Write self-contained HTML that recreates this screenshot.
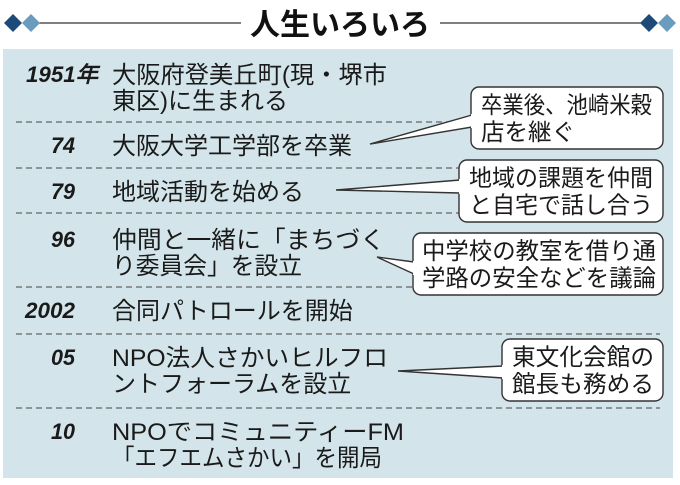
<!DOCTYPE html>
<html><head><meta charset="utf-8"><style>
html,body{margin:0;padding:0;background:#fff;}
svg{display:block;}
.t{font-family:"Liberation Sans","Noto Sans CJK JP",sans-serif;font-size:24px;fill:#1a1a1a;}
.b{font-family:"Liberation Sans","Noto Sans CJK JP",sans-serif;font-size:23.5px;fill:#1a1a1a;}
.y{font-family:"Liberation Sans Narrow","Liberation Sans",sans-serif;font-size:22px;font-weight:bold;font-style:italic;fill:#1a1a1a;}
</style></head><body>
<svg width="680" height="485" viewBox="0 0 680 485" xmlns="http://www.w3.org/2000/svg">
<rect x="0" y="0" width="680" height="485" fill="#fff"/>
<line x1="36" y1="23" x2="241" y2="23" stroke="#333" stroke-width="1.3"/>
<line x1="440" y1="23" x2="644" y2="23" stroke="#333" stroke-width="1.3"/>
<polygon points="13,14 22,23 13,32 4,23" fill="#1d4a78"/>
<polygon points="31,14 40,23 31,32 22,23" fill="#6a9cbf"/>
<polygon points="649,14 658,23 649,32 640,23" fill="#1d4a78"/>
<polygon points="667,14 676,23 667,32 658,23" fill="#6a9cbf"/>
<text x="340" y="35" text-anchor="middle" font-family="Liberation Sans,'Noto Sans CJK JP',sans-serif" font-size="30" font-weight="bold" fill="#111">人生いろいろ</text>
<rect x="3" y="49" width="670" height="429" fill="#d3e5ea"/>
<g stroke="#666" stroke-width="1.2" stroke-dasharray="6,4">
<line x1="16" y1="122" x2="660" y2="122"/>
<line x1="16" y1="168" x2="660" y2="168"/>
<line x1="16" y1="213" x2="660" y2="213"/>
<line x1="16" y1="287" x2="660" y2="287"/>
<line x1="16" y1="334" x2="660" y2="334"/>
<line x1="16" y1="408" x2="660" y2="408"/>
</g>
<g class="y">
<text x="26" y="82" textLength="72" lengthAdjust="spacingAndGlyphs">1951年</text>
<text x="51" y="153" textLength="24" lengthAdjust="spacingAndGlyphs">74</text>
<text x="51" y="199" textLength="24" lengthAdjust="spacingAndGlyphs">79</text>
<text x="51" y="247" textLength="24" lengthAdjust="spacingAndGlyphs">96</text>
<text x="25" y="318" textLength="50" lengthAdjust="spacingAndGlyphs">2002</text>
<text x="51" y="365" textLength="24" lengthAdjust="spacingAndGlyphs">05</text>
<text x="51" y="439" textLength="24" lengthAdjust="spacingAndGlyphs">10</text>
</g>
<g class="t">
<text x="112" y="83" textLength="275" lengthAdjust="spacingAndGlyphs">大阪府登美丘町(現・堺市</text>
<text x="112" y="109">東区)に生まれる</text>
<text x="112" y="154">大阪大学工学部を卒業</text>
<text x="112" y="200">地域活動を始める</text>
<text x="112" y="248" textLength="273" lengthAdjust="spacingAndGlyphs">仲間と一緒に「まちづく</text>
<text x="112" y="274" textLength="190" lengthAdjust="spacingAndGlyphs">り委員会」を設立</text>
<text x="112" y="319">合同パトロールを開始</text>
<text x="112" y="366" textLength="276" lengthAdjust="spacingAndGlyphs">NPO法人さかいヒルフロ</text>
<text x="112" y="392">ントフォーラムを設立</text>
<text x="112" y="440" textLength="292" lengthAdjust="spacingAndGlyphs">NPOでコミュニティーFM</text>
<text x="112" y="466" textLength="270" lengthAdjust="spacingAndGlyphs">「エフエムさかい」を開局</text>
</g>
<g fill="#fff" stroke="#333" stroke-width="1.4">
<rect x="471" y="87" width="192" height="62" rx="8"/>
<rect x="459" y="160" width="204" height="62" rx="8"/>
<rect x="413" y="233" width="250" height="62" rx="8"/>
<rect x="502" y="339" width="161" height="62" rx="8"/>
</g>
<g fill="#fff" stroke="#333" stroke-width="1.4" stroke-linejoin="miter">
<polyline points="472,115 370,144 472,127"/>
<polyline points="460,180 336,190 460,193"/>
<polyline points="414,262 377,257 414,274"/>
<polyline points="503,366 398,371 503,378"/>
</g>
<g fill="#fff">
<rect x="471" y="114" width="3" height="14"/>
<rect x="459" y="179" width="3" height="15"/>
<rect x="413" y="261" width="3" height="14"/>
<rect x="502" y="365" width="3" height="14"/>
</g>
<g class="b">
<text x="481" y="113" textLength="171" lengthAdjust="spacingAndGlyphs">卒業後、池崎米穀</text>
<text x="481" y="140">店を継ぐ</text>
<text x="469" y="186" textLength="184" lengthAdjust="spacingAndGlyphs">地域の課題を仲間</text>
<text x="469" y="213" textLength="184" lengthAdjust="spacingAndGlyphs">と自宅で話し合う</text>
<text x="422" y="259" textLength="234" lengthAdjust="spacingAndGlyphs">中学校の教室を借り通</text>
<text x="422" y="286" textLength="234" lengthAdjust="spacingAndGlyphs">学路の安全などを議論</text>
<text x="512" y="365" textLength="142" lengthAdjust="spacingAndGlyphs">東文化会館の</text>
<text x="512" y="392" textLength="142" lengthAdjust="spacingAndGlyphs">館長も務める</text>
</g>
</svg>
</body></html>
